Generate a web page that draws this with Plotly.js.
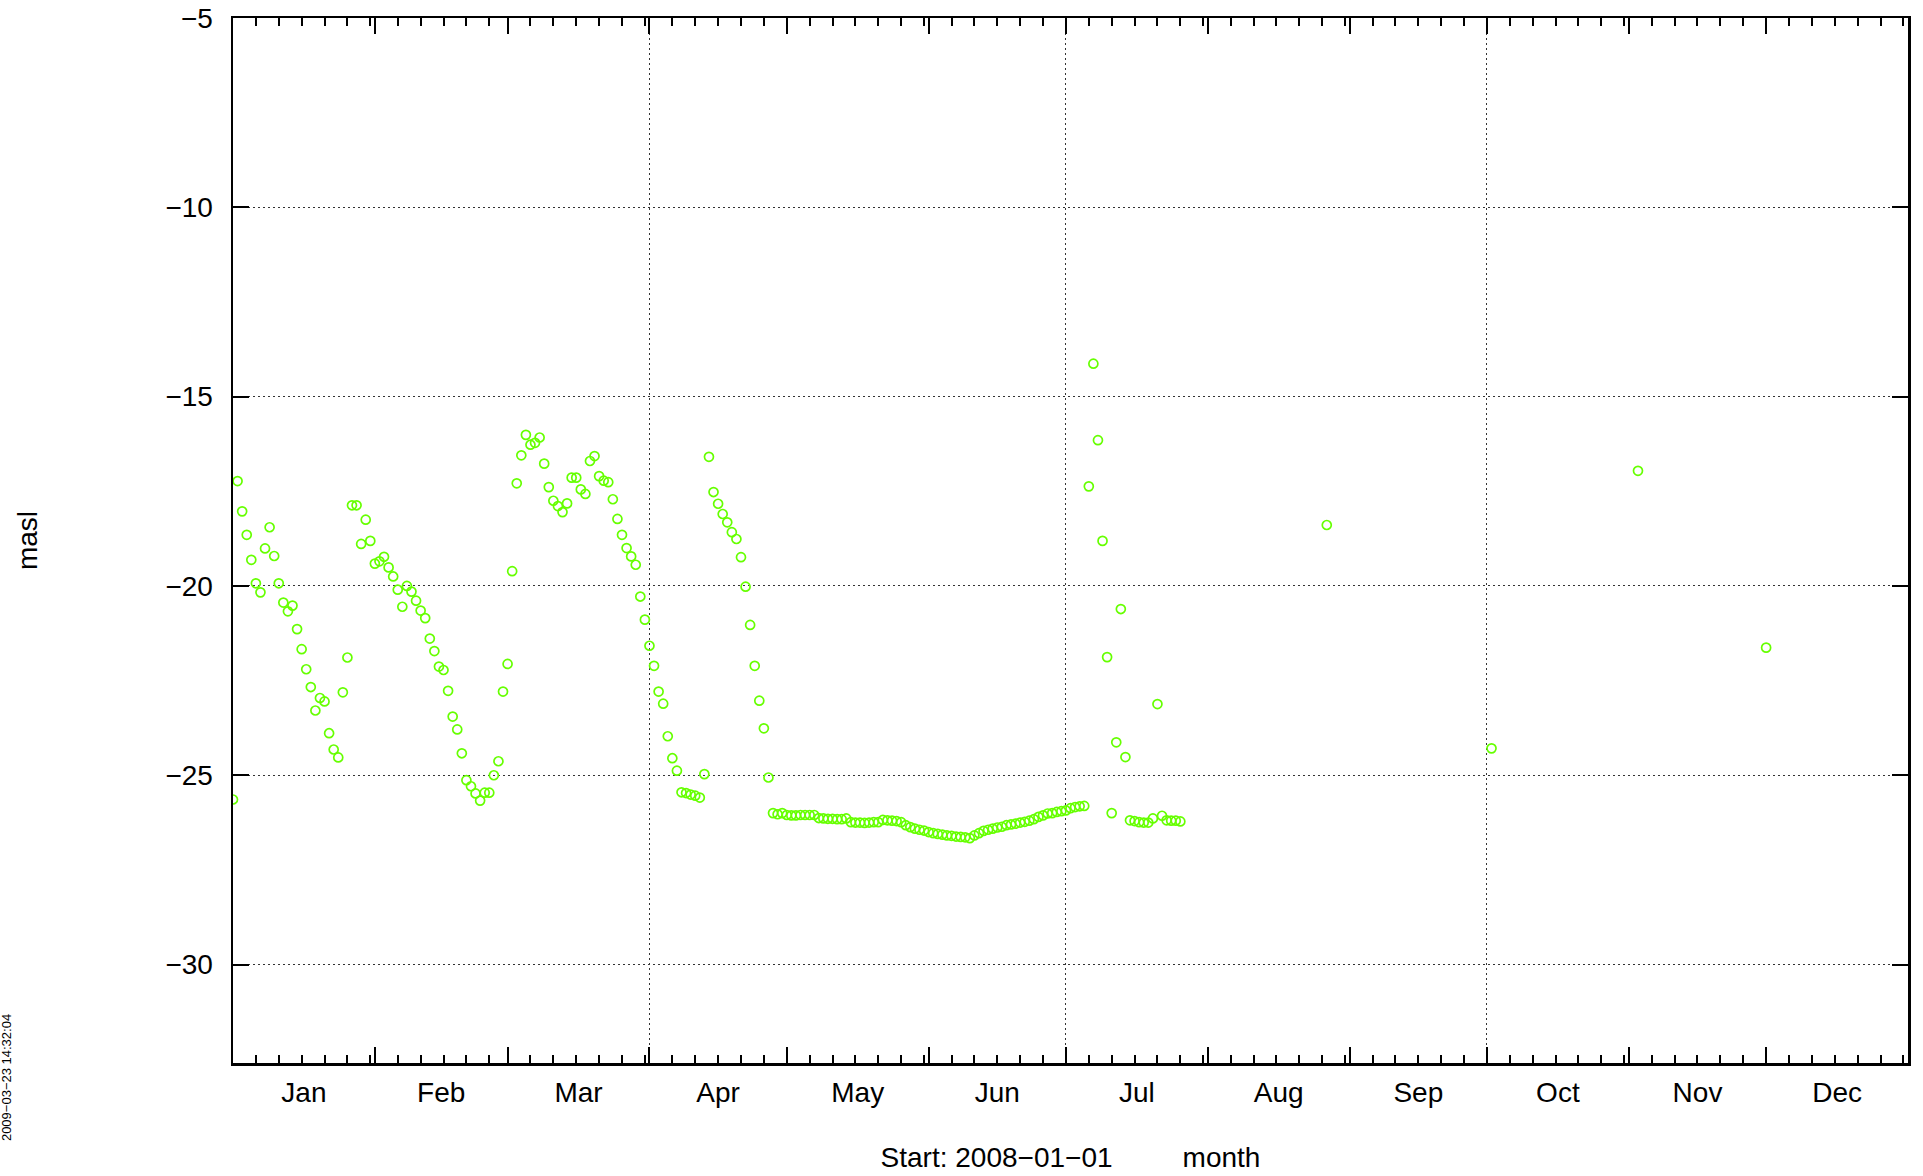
<!DOCTYPE html>
<html>
<head>
<meta charset="utf-8">
<script src="https://cdn.plot.ly/plotly-3.0.1.min.js"></script>
<style>
html,body{margin:0;padding:0;background:#fff;}
#chart{width:1923px;height:1176px;}
</style>
</head>
<body>
<div id="chart"></div>
<script>
// ---- data (daily water level, masl) ----
const dates = [
 '2008-01-01','2008-01-02','2008-01-03','2008-01-04','2008-01-05','2008-01-06','2008-01-07','2008-01-08','2008-01-09','2008-01-10',
 '2008-01-11','2008-01-12','2008-01-13','2008-01-14','2008-01-15','2008-01-16','2008-01-17','2008-01-18','2008-01-19','2008-01-20',
 '2008-01-21','2008-01-22','2008-01-23','2008-01-24','2008-01-25','2008-01-26','2008-01-27','2008-01-28','2008-01-29','2008-01-30',
 '2008-01-31',
 '2008-02-01','2008-02-02','2008-02-03','2008-02-04','2008-02-05','2008-02-06','2008-02-07','2008-02-08','2008-02-09','2008-02-10',
 '2008-02-11','2008-02-12','2008-02-13','2008-02-14','2008-02-15','2008-02-16','2008-02-17','2008-02-18','2008-02-19','2008-02-20',
 '2008-02-21','2008-02-22','2008-02-23','2008-02-24','2008-02-25','2008-02-26','2008-02-27','2008-02-28','2008-02-29',
 '2008-03-01','2008-03-02','2008-03-03','2008-03-04','2008-03-05','2008-03-06','2008-03-07','2008-03-08','2008-03-09','2008-03-10',
 '2008-03-11','2008-03-12','2008-03-13','2008-03-14','2008-03-15','2008-03-16','2008-03-17','2008-03-18','2008-03-19','2008-03-20',
 '2008-03-21','2008-03-22','2008-03-23','2008-03-24','2008-03-25','2008-03-26','2008-03-27','2008-03-28','2008-03-29','2008-03-30',
 '2008-03-31',
 '2008-04-01','2008-04-02','2008-04-03','2008-04-04','2008-04-05','2008-04-06','2008-04-07','2008-04-08','2008-04-09','2008-04-10',
 '2008-04-11','2008-04-12','2008-04-13','2008-04-14','2008-04-15','2008-04-16','2008-04-17','2008-04-18','2008-04-19','2008-04-20',
 '2008-04-21','2008-04-22','2008-04-23','2008-04-24','2008-04-25','2008-04-26','2008-04-27','2008-04-28','2008-04-29','2008-04-30',
 '2008-05-01','2008-05-02','2008-05-03','2008-05-04','2008-05-05','2008-05-06','2008-05-07','2008-05-08','2008-05-09','2008-05-10',
 '2008-05-11','2008-05-12','2008-05-13','2008-05-14','2008-05-15','2008-05-16','2008-05-17','2008-05-18','2008-05-19','2008-05-20',
 '2008-05-21','2008-05-22','2008-05-23','2008-05-24','2008-05-25','2008-05-26','2008-05-27','2008-05-28','2008-05-29','2008-05-30',
 '2008-05-31',
 '2008-06-01','2008-06-02','2008-06-03','2008-06-04','2008-06-05','2008-06-06','2008-06-07','2008-06-08','2008-06-09','2008-06-10',
 '2008-06-11','2008-06-12','2008-06-13','2008-06-14','2008-06-15','2008-06-16','2008-06-17','2008-06-18','2008-06-19','2008-06-20',
 '2008-06-21','2008-06-22','2008-06-23','2008-06-24','2008-06-25','2008-06-26','2008-06-27','2008-06-28','2008-06-29','2008-06-30',
 '2008-07-01','2008-07-02','2008-07-03','2008-07-04','2008-07-05','2008-07-06','2008-07-07','2008-07-08','2008-07-09','2008-07-10',
 '2008-07-11','2008-07-12','2008-07-13','2008-07-14','2008-07-15','2008-07-16','2008-07-17','2008-07-18','2008-07-19','2008-07-20',
 '2008-07-21','2008-07-22','2008-07-23','2008-07-24','2008-07-25','2008-07-26',
 '2008-08-27','2008-10-02','2008-11-03','2008-12-01'
];
const levels = [
 // Jan
 -25.64,-17.23,-18.03,-18.65,-19.31,-19.93,-20.17,-19.01,-18.45,-19.21,
 -19.93,-20.44,-20.67,-20.52,-21.14,-21.67,-22.20,-22.67,-23.29,-22.96,
 -23.05,-23.89,-24.32,-24.53,-22.81,-21.89,-17.87,-17.87,-18.89,-18.25,
 -18.81,
 // Feb
 -19.41,-19.35,-19.23,-19.51,-19.75,-20.10,-20.55,-20.00,-20.15,-20.39,
 -20.65,-20.85,-21.39,-21.72,-22.13,-22.22,-22.77,-23.45,-23.79,-24.42,
 -25.13,-25.29,-25.48,-25.67,-25.46,-25.46,-25.00,-24.63,-22.79,
 // Mar
 -22.06,-19.61,-17.29,-16.55,-16.01,-16.27,-16.22,-16.08,-16.77,-17.39,
 -17.75,-17.89,-18.05,-17.82,-17.14,-17.14,-17.45,-17.57,-16.70,-16.57,
 -17.10,-17.22,-17.26,-17.71,-18.23,-18.65,-19.00,-19.22,-19.44,-20.28,
 -20.89,
 // Apr
 -21.58,-22.11,-22.79,-23.11,-23.97,-24.55,-24.88,-25.45,-25.47,-25.51,
 -25.54,-25.59,-24.97,-16.59,-17.52,-17.83,-18.10,-18.32,-18.58,-18.76,
 -19.24,-20.02,-21.03,-22.11,-23.03,-23.76,-25.06,-26.00,-26.03,-26.00,
 // May
 -26.05,-26.06,-26.06,-26.05,-26.05,-26.05,-26.05,-26.13,-26.14,-26.15,
 -26.15,-26.16,-26.16,-26.14,-26.24,-26.25,-26.25,-26.26,-26.25,-26.24,
 -26.24,-26.18,-26.19,-26.20,-26.21,-26.24,-26.32,-26.37,-26.41,-26.44,
 -26.46,
 // Jun
 -26.50,-26.53,-26.55,-26.57,-26.59,-26.60,-26.62,-26.63,-26.64,-26.66,
 -26.59,-26.53,-26.47,-26.44,-26.41,-26.38,-26.36,-26.32,-26.30,-26.28,
 -26.25,-26.23,-26.20,-26.16,-26.10,-26.06,-26.01,-26.00,-25.97,-25.95,
 // Jul
 -25.93,-25.87,-25.84,-25.82,-25.81,-17.37,-14.13,-16.15,-18.81,-21.88,
 -26.00,-24.13,-20.61,-24.52,-26.19,-26.21,-26.24,-26.25,-26.25,-26.14,
 -23.12,-26.07,-26.19,-26.20,-26.20,-26.22,
 // isolated readings
 -18.39,-24.29,-16.96,-21.63
];
const monthLabels = ['Jan','Feb','Mar','Apr','May','Jun','Jul','Aug','Sep','Oct','Nov','Dec'];
const yTickVals = [-30,-25,-20,-15,-10,-5];
const quarterGrid = ['2008-04-01','2008-07-01','2008-10-01'];
const xTitleText = 'Start: 2008\u221201\u221201' + '\u00a0'.repeat(9) + 'month';
const yTitleText = 'masl';
const stampText = '2009\u221203\u221223 14:32:04';

// ---- axis helpers (tick positions) ----
function iso(ms){
  const d = new Date(ms);
  const p = n => String(n).padStart(2,'0');
  return d.getUTCFullYear()+'-'+p(d.getUTCMonth()+1)+'-'+p(d.getUTCDate())+' '+p(d.getUTCHours())+':'+p(d.getUTCMinutes());
}
const DAY = 86400000;
const monthStarts = [], midMonths = [], minorTicks = [];
for (let m = 0; m < 12; m++) {
  const s = Date.UTC(2008, m, 1), e = Date.UTC(2008, m + 1, 1);
  monthStarts.push(iso(s));
  midMonths.push(iso((s + e) / 2));
  for (let k = 1; k <= 6; k++) {
    const t = s + 5 * k * DAY;
    if (t < e) minorTicks.push(iso(t));
  }
}
monthStarts.push(iso(Date.UTC(2009,0,1)));

const FONT = 'Liberation Sans, Arial, Helvetica, sans-serif';
const xRange = ['2008-01-01', '2009-01-01'];
const yRange = [-32.6, -5];

const trace = {
  type: 'scatter', mode: 'markers',
  x: dates, y: levels,
  xaxis: 'x', yaxis: 'y',
  marker: {symbol: 'circle-open', size: 9, color: '#66ff00', line: {width: 1.7, color: '#66ff00'}},
  hoverinfo: 'x+y', showlegend: false
};

const layout = {
  width: 1923, height: 1176,
  margin: {l: 233, r: 15, t: 18, b: 113},
  paper_bgcolor: '#ffffff', plot_bgcolor: '#ffffff',
  font: {family: FONT, size: 28, color: '#000'},
  showlegend: false,
  xaxis: {
    type: 'date', range: xRange, fixedrange: true,
    tickmode: 'array', tickvals: monthStarts, ticktext: monthStarts.map(() => ''),
    ticks: 'inside', ticklen: 16, tickwidth: 2, tickcolor: '#000',
    minor: {tickmode: 'array', tickvals: minorTicks, ticks: 'inside', ticklen: 8, tickwidth: 2, tickcolor: '#000', showgrid: false},
    showline: true, linecolor: '#000', linewidth: 2.5, mirror: 'ticks',
    showgrid: false, zeroline: false,
    title: {text: xTitleText, font: {family: FONT, size: 28, color: '#000'}, standoff: 78}
  },
  xaxis2: {
    type: 'date', range: xRange, fixedrange: true, overlaying: 'x', anchor: 'y', side: 'bottom',
    tickmode: 'array', tickvals: midMonths, ticktext: monthLabels,
    ticks: '', showline: false, showgrid: false, zeroline: false,
    tickfont: {family: FONT, size: 28, color: '#000'}, ticklabelstandoff: 10
  },
  xaxis3: {
    type: 'date', range: xRange, fixedrange: true, overlaying: 'x', anchor: 'y', side: 'bottom',
    tickmode: 'array', tickvals: quarterGrid, showticklabels: false,
    ticks: '', showline: false, zeroline: false,
    showgrid: true, gridcolor: '#333', gridwidth: 1, griddash: '2px,3px'
  },
  yaxis: {
    range: yRange, fixedrange: true,
    tickmode: 'array', tickvals: yTickVals,
    ticks: 'inside', ticklen: 16, tickwidth: 2, tickcolor: '#000',
    showline: true, linecolor: '#000', linewidth: 2.5, mirror: 'ticks',
    showgrid: true, gridcolor: '#333', gridwidth: 1, griddash: '2px,3px',
    zeroline: false,
    tickfont: {family: FONT, size: 28, color: '#000'}, ticklabelstandoff: 12,
    title: {text: yTitleText, font: {family: FONT, size: 28, color: '#000'}, standoff: 120}
  },
  annotations: [{
    text: stampText, xref: 'paper', yref: 'paper',
    x: -0.1355, y: -0.0144, xanchor: 'center', yanchor: 'middle',
    textangle: -90, showarrow: false,
    font: {family: FONT, size: 13, color: '#000'}
  }]
};

// empty traces so the overlay axes are drawn
const t2 = {type: 'scatter', mode: 'markers', x: [], y: [], xaxis: 'x2', yaxis: 'y', showlegend: false, hoverinfo: 'skip'};
const t3 = {type: 'scatter', mode: 'markers', x: [], y: [], xaxis: 'x3', yaxis: 'y', showlegend: false, hoverinfo: 'skip'};

Plotly.newPlot('chart', [t3, t2, trace], layout, {displayModeBar: false, staticPlot: true});
</script>
</body>
</html>
